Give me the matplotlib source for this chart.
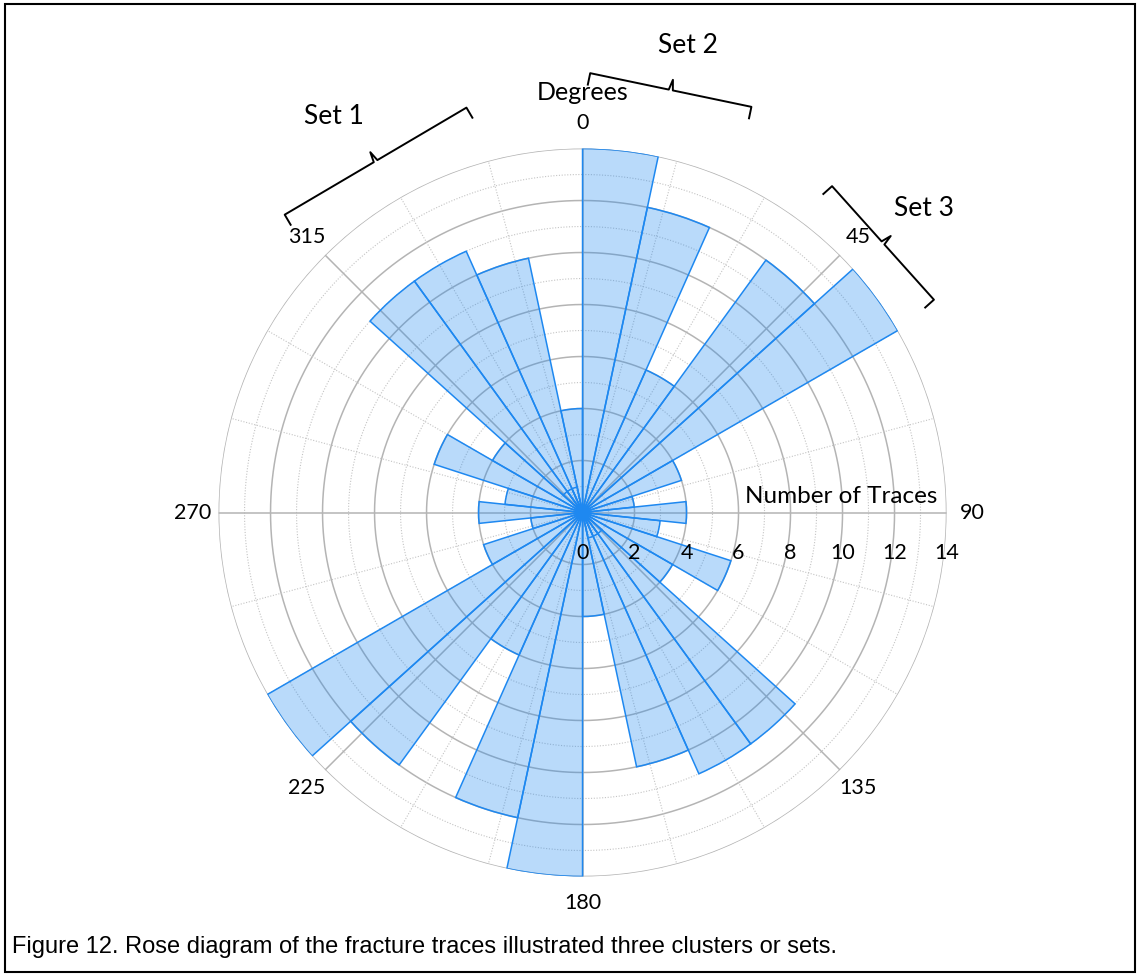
import numpy as np
import matplotlib
matplotlib.use('Agg')
import matplotlib.pyplot as plt
from matplotlib import font_manager
from matplotlib.colors import to_rgba
from matplotlib.patches import Rectangle

plt.rcParams['font.family'] = ['Lato', 'DejaVu Sans']

# trace counts per 12 degree azimuth bin, clockwise from north over 0-180;
# strikes are bidirectional so 180-360 repeats the same counts
bin_width = 12
half_counts = [14, 12, 6, 12, 14, 4, 2, 4, 3, 6, 4, 11, 11, 10, 4]
counts = half_counts + half_counts
# short base segments inside the set 1 bins
inner_bins = [11, 12, 13, 26, 27, 28]
inner_value = 1

ring_values = list(range(1, 15))
ring_labels = [0, 2, 4, 6, 8, 10, 12, 14]
spoke_angles = list(range(0, 360, 15))
angle_labels = list(range(0, 360, 45))

# fracture sets: (label, start angle, end angle, bracket radius, label angle, label radius)
sets = [
    ('Set 1', 315.0, 344.0, 16.2, 327.9, 18.0),
    ('Set 2', 1.0, 22.6, 16.9, 12.7, 18.4),
    ('Set 3', 37.4, 58.8, 15.8, 48.3, 17.6),
]

caption = 'Figure 12. Rose diagram of the fracture traces illustrated three clusters or sets.'

try:
    font_manager.findfont('Liberation Sans Narrow', fallback_to_default=False)
    caption_font, caption_size = 'Liberation Sans Narrow', 20
except ValueError:
    caption_font, caption_size = 'Liberation Sans', 17

edge_blue = '#1E88F0'
grid_gray = '#b4b4b4'
dot_gray = '#c4c4c4'


def draw_bracket(ax, theta0, theta1, r, hook=0.45, tip=0.4):
    t = np.deg2rad([theta0, theta1])
    p0 = np.array([r * np.sin(t[0]), r * np.cos(t[0])])
    p1 = np.array([r * np.sin(t[1]), r * np.cos(t[1])])
    mid = (p0 + p1) / 2
    out = mid / np.linalg.norm(mid)
    along = (p1 - p0) / np.linalg.norm(p1 - p0)
    # brace: hooks turned in at both ends, a narrow tip pointing out at the middle
    pts = np.array([p0 - out * hook, p0, mid - along * 0.08, mid + out * tip,
                    mid + along * 0.08, p1, p1 - out * hook])
    th = np.arctan2(pts[:, 0], pts[:, 1])
    rr = np.hypot(pts[:, 0], pts[:, 1])
    ax.plot(th, rr, color='black', lw=1.4, clip_on=False, solid_joinstyle='round', zorder=5)


fig = plt.figure(figsize=(11.4, 9.75), dpi=100)
ax = fig.add_axes([0.1917, 0.1010, 0.6386, 0.7467], projection='polar')
ax.set_theta_zero_location('N')
ax.set_theta_direction(-1)
ax.grid(False)
ax.set_xticks([])
ax.set_yticks([])
ax.spines['polar'].set_visible(False)

# rings: solid on even counts, dotted on odd
th = np.linspace(0, 2 * np.pi, 721)
for r in ring_values:
    if r % 2 == 0:
        ax.plot(th, np.full_like(th, r), color=grid_gray, lw=1.1, zorder=1)
    else:
        ax.plot(th, np.full_like(th, r), color=dot_gray, lw=0.8,
                linestyle=(0, (1, 1.5)), zorder=1)

# spokes: solid every 45 degrees, dotted in between
for a in spoke_angles:
    if a % 45 == 0:
        ax.plot([np.deg2rad(a)] * 2, [0, 14], color=grid_gray, lw=1.1, zorder=1)
    else:
        ax.plot([np.deg2rad(a)] * 2, [0, 14], color=dot_gray, lw=0.8,
                linestyle=(0, (1, 1.5)), zorder=1)

edges = np.arange(0, 360, bin_width)
centers = np.deg2rad(edges + bin_width / 2)
ax.bar(centers, counts, width=np.deg2rad(bin_width), bottom=0,
       facecolor=to_rgba(edge_blue, 0.31), edgecolor=edge_blue, lw=1.1, zorder=2)
ax.bar(centers[inner_bins], [inner_value] * len(inner_bins), width=np.deg2rad(bin_width),
       bottom=0, facecolor='none', edgecolor=edge_blue, lw=1.1, zorder=2)

# compass labels
for a in angle_labels:
    ax.text(np.deg2rad(a), 15, str(a), ha='center', va='center', fontsize=15.5)
ax.annotate('Degrees', xy=(0, 15), xytext=(0, 30), textcoords='offset pixels',
            ha='center', va='center', fontsize=18, annotation_clip=False)

# count labels along the east axis
for r in ring_labels:
    ax.annotate(str(r), xy=(np.pi / 2, r), xytext=(0, -40), textcoords='offset pixels',
                ha='center', va='center', fontsize=15.5, annotation_clip=False)
ax.annotate('Number of Traces', xy=(np.pi / 2, 13.65), xytext=(0, 16),
            textcoords='offset pixels', ha='right', va='center', fontsize=17.5,
            annotation_clip=False)

for label, a0, a1, rb, la, lr in sets:
    draw_bracket(ax, a0, a1, rb)
    ax.text(np.deg2rad(la), lr, label, ha='center', va='center', fontsize=19)

ax.set_rlim(0, 14)

fig.text(0.0105, 1 - 947 / 975, caption, family=caption_font, fontsize=caption_size,
         ha='left', va='center')
fig.add_artist(Rectangle((0.004, 0.003), 0.992, 0.993, transform=fig.transFigure,
                         fill=False, edgecolor='black', lw=1.5))

fig.savefig('out.png', dpi=100)
